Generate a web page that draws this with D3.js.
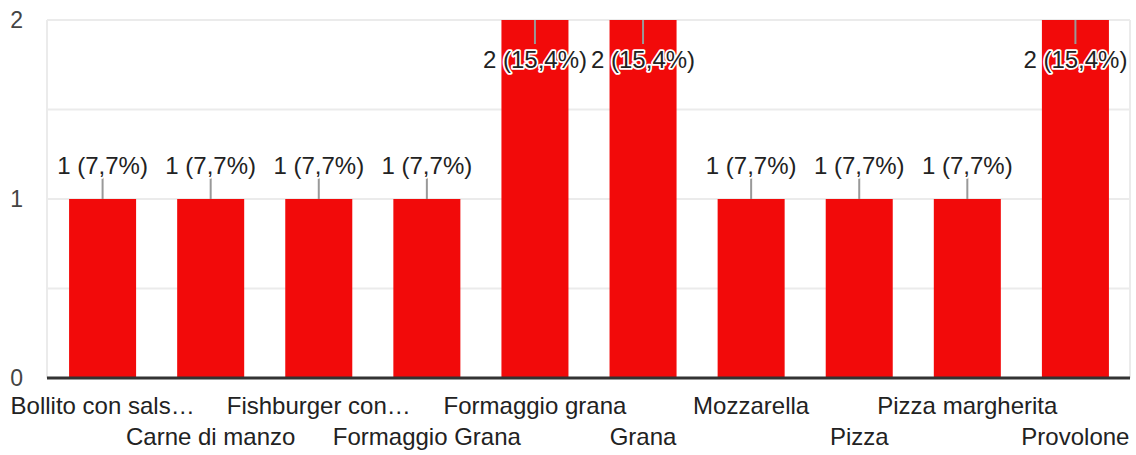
<!DOCTYPE html>
<html>
<head>
<meta charset="utf-8">
<script src="https://cdn.jsdelivr.net/npm/d3@7"></script>
<style>
  html, body { margin: 0; padding: 0; background: #fff; }
  svg { display: block; font-family: "Liberation Sans", Arial, sans-serif; }
</style>
</head>
<body>
<svg id="chart" width="1136" height="455"></svg>
<script>
// answers (labels as shown, truncated ones kept as-is)
var categories = [
  "Bollito con sals\u2026", "Carne di manzo", "Fishburger con\u2026", "Formaggio Grana",
  "Formaggio grana", "Grana", "Mozzarella", "Pizza", "Pizza margherita", "Provolone"
];
var counts = [1, 1, 1, 1, 2, 2, 1, 1, 1, 2];
var percents = ["7,7", "7,7", "7,7", "7,7", "15,4", "15,4", "7,7", "7,7", "7,7", "15,4"];
var yTicks = [0, 1, 2];

var svg = d3.select("#chart");
var m = {left: 47, right: 1130, top: 20, bottom: 378};

var x = d3.scaleBand()
  .domain(categories)
  .range([m.left + 1, m.right])
  .paddingInner(0.38)
  .paddingOuter(0.195);

var y = d3.scaleLinear().domain([0, 2]).range([m.bottom, m.top]);

// gridlines (major + minor)
var grid = svg.append("g").attr("class", "grid");
grid.selectAll("line")
  .data(d3.range(0.5, 2.01, 0.5))
  .enter().append("line")
  .attr("x1", m.left).attr("x2", m.right)
  .attr("y1", function(d) { return y(d); })
  .attr("y2", function(d) { return y(d); })
  .attr("stroke", "#ebebeb")
  .attr("stroke-width", 2);
[m.left, m.right].forEach(function(px) {
  grid.append("line")
    .attr("x1", px).attr("x2", px)
    .attr("y1", m.top).attr("y2", m.bottom)
    .attr("stroke", "#ebebeb")
    .attr("stroke-width", 2);
});

// y tick labels
var yAxis = d3.axisLeft(y).tickValues(yTicks).tickSize(0).tickPadding(0).tickFormat(d3.format("d"));
svg.append("g")
  .attr("transform", "translate(23,0)")
  .call(yAxis)
  .call(function(g) {
    g.select(".domain").remove();
    g.selectAll("text")
      .attr("fill", "#444")
      .style("font-size", "23px")
      .attr("dy", "0.34em");
  });

// bars
svg.append("g").selectAll("rect")
  .data(counts)
  .enter().append("rect")
  .attr("x", function(d, i) { return x(categories[i]); })
  .attr("y", function(d) { return y(d); })
  .attr("width", x.bandwidth())
  .attr("height", function(d) { return y(0) - y(d); })
  .attr("fill", "#f20a0a");

// baseline
svg.append("line")
  .attr("x1", m.left).attr("x2", m.right)
  .attr("y1", y(0)).attr("y2", y(0))
  .attr("stroke", "#333")
  .attr("stroke-width", 3);

// data labels with leader lines
var lbl = svg.append("g").selectAll("g")
  .data(counts)
  .enter().append("g")
  .attr("transform", function(d, i) {
    return "translate(" + (x(categories[i]) + x.bandwidth() / 2) + "," + y(d) + ")";
  });

lbl.append("line")
  .attr("x1", 0).attr("x2", 0)
  .attr("y1", function(d) { return d >= 2 ? 0 : -22; })
  .attr("y2", function(d) { return d >= 2 ? 24 : 0; })
  .attr("stroke", "#999")
  .attr("stroke-width", 2);

lbl.append("text")
  .attr("text-anchor", "middle")
  .attr("y", function(d) { return d >= 2 ? 48 : -25; })
  .attr("fill", "#222")
  .attr("stroke", "#fff")
  .attr("stroke-width", 3.5)
  .attr("stroke-linejoin", "round")
  .style("paint-order", "stroke")
  .style("font-size", "24px")
  .text(function(d, i) { return d + " (" + percents[i] + "%)"; });

// x labels, staggered on two rows
svg.append("g").selectAll("text")
  .data(categories)
  .enter().append("text")
  .attr("x", function(d) { return x(d) + x.bandwidth() / 2; })
  .attr("y", function(d, i) { return i % 2 === 0 ? 414 : 445; })
  .attr("text-anchor", "middle")
  .attr("fill", "#222")
  .style("font-size", "24px")
  .text(function(d) { return d; });
</script>
</body>
</html>
